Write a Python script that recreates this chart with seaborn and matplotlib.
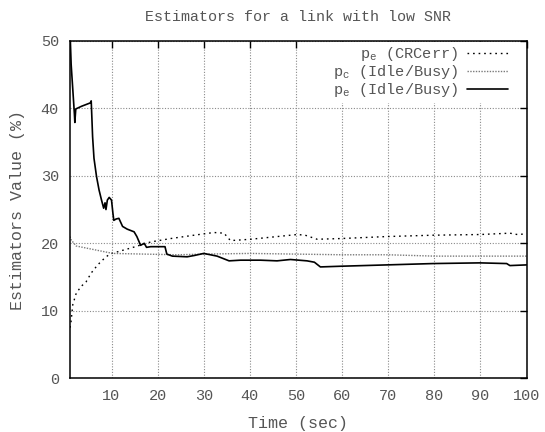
import numpy as np
import pandas as pd
import matplotlib
matplotlib.use("Agg")
import matplotlib.pyplot as plt
import seaborn as sns

# ---- data ----
crc_t = [1.0, 1.2, 1.6, 2.35, 3.4, 4.5, 5.6, 7.0, 8.5, 9.6, 12.1, 14.2, 18.5, 22.8,
         27.9, 32.2, 34.4, 35.8, 40.2, 44.5, 50.3, 52.0, 54.6, 59.6, 69.7, 79.8,
         89.9, 96.4, 98.0, 100.0]
crc_v = [7.5, 8.2, 10.9, 12.6, 13.6, 14.3, 15.6, 16.8, 17.8, 18.4, 18.9, 19.3, 20.2, 20.7,
         21.2, 21.6, 21.5, 20.4, 20.6, 20.9, 21.3, 21.2, 20.6, 20.7, 21.0, 21.2,
         21.3, 21.5, 21.3, 21.4]

pc_t = [1.0, 1.25, 2.35, 5.2, 8.1, 10.3, 17.1, 24.3, 30.0, 40.0, 50.0, 60.0, 70.0,
        80.0, 90.0, 100.0]
pc_v = [21.0, 20.5, 19.6, 19.2, 18.8, 18.5, 18.4, 18.3, 18.4, 18.5, 18.4, 18.3, 18.3,
        18.1, 18.1, 18.1]

pe_t = [1.05, 1.25, 1.95, 2.05, 2.25, 3.5, 5.4, 5.6, 5.75, 5.9, 6.2, 6.75, 7.3, 7.8,
        8.3, 8.6, 8.8, 9.1, 9.5, 10.0, 10.3, 10.5, 11.0, 11.6, 12.4, 13.4, 14.9, 15.5,
        16.0, 16.3, 17.1, 17.6, 18.5, 20.0, 21.6, 22.0, 23.2, 26.4, 28.0, 30.0, 32.9,
        35.5, 38.0, 42.3, 45.9, 48.8, 52.4, 54.0, 55.3, 59.6, 69.7, 79.8, 89.9, 95.7,
        96.4, 100.0]
pe_v = [50.5, 46.5, 39.2, 37.9, 39.9, 40.3, 40.8, 41.1, 38.5, 35.8, 32.6, 29.9, 27.9, 26.5,
        25.2, 26.0, 25.0, 26.4, 26.8, 26.4, 24.5, 23.4, 23.6, 23.7, 22.5, 22.1, 21.7, 21.0,
        20.2, 19.7, 20.0, 19.4, 19.5, 19.5, 19.5, 18.4, 18.1, 18.0, 18.2, 18.5, 18.1,
        17.4, 17.5, 17.5, 17.4, 17.6, 17.4, 17.2, 16.5, 16.6, 16.8, 17.0, 17.1, 17.0,
        16.7, 16.8]

x_ticks = [10, 20, 30, 40, 50, 60, 70, 80, 90, 100]
y_ticks = [0, 10, 20, 30, 40, 50]

TXT = "#555555"

sns.set_theme(style="white")
plt.rcParams.update({
    "font.family": ["Liberation Mono", "DejaVu Sans Mono"],
    "font.size": 10.8,
    "mathtext.fontset": "custom",
    "mathtext.rm": "Liberation Mono",
    "mathtext.it": "Liberation Mono",
    "text.color": TXT,
    "axes.labelcolor": TXT,
    "xtick.color": "black",
    "ytick.color": "black",
    "xtick.labelcolor": TXT,
    "ytick.labelcolor": TXT,
})

fig = plt.figure(figsize=(5.45, 4.32), dpi=100)
ax = fig.add_axes([70 / 545, 1 - 378.3 / 432, (526.5 - 70) / 545, (378.3 - 40.8) / 432])

ax.grid(True, color="#8a8a8a", linestyle=(0, (1, 1.5)), linewidth=0.8)
ax.set_axisbelow(True)

sns.lineplot(x=crc_t, y=crc_v, ax=ax, color="black", linewidth=1.0,
             linestyle=(0, (1.2, 2.8)), estimator=None, label=r"$\mathregular{p_e}$ (CRCerr)")
sns.lineplot(x=pc_t, y=pc_v, ax=ax, color="#7a7a7a", linewidth=1.0,
             linestyle=(0, (1, 1)), estimator=None, label=r"$\mathregular{p_c}$ (Idle/Busy)")
sns.lineplot(x=pe_t, y=pe_v, ax=ax, color="black", linewidth=1.2,
             estimator=None, label=r"$\mathregular{p_e}$ (Idle/Busy)")

ax.set_xlim(1, 100)
ax.set_ylim(0, 50)
ax.set_xticks(x_ticks)
ax.set_yticks(y_ticks)
ax.tick_params(direction="in", length=5, width=1, top=True, right=True, pad=8)
for s in ax.spines.values():
    s.set_color("black")
    s.set_linewidth(1.1)

ax.set_xlabel("Time (sec)", labelpad=9)
ax.set_ylabel("Estimators Value (%)", labelpad=11)
ax.set_title("Estimators for a link with low SNR", pad=14, fontsize=10.8)

leg = ax.legend(loc="upper right", bbox_to_anchor=(1 - 15 / 456.5, 1 - 1 / 337.5),
                markerfirst=False, frameon=True, fancybox=False,
                facecolor="white", edgecolor="none", framealpha=1,
                handlelength=2.7, handletextpad=0.6, labelspacing=0.02,
                borderpad=0.2, borderaxespad=0)
for t in leg.get_texts():
    t.set_ha("right")
leg._legend_box.align = "right"

fig.savefig("out.png", dpi=100)
